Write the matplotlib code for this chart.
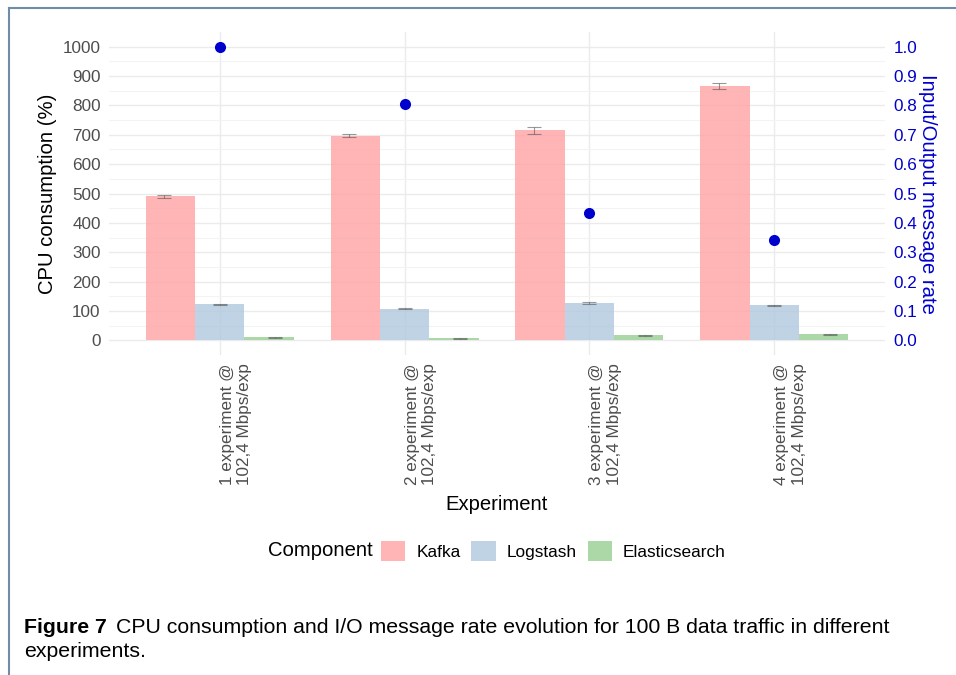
import matplotlib
matplotlib.use("Agg")
import matplotlib.pyplot as plt
from matplotlib.lines import Line2D
from matplotlib.patches import Patch
import numpy as np

plt.rcParams['font.family'] = ['Liberation Sans', 'DejaVu Sans']

# data
experiments = ["1 experiment @\n102,4 Mbps/exp", "2 experiment @\n102,4 Mbps/exp",
               "3 experiment @\n102,4 Mbps/exp", "4 experiment @\n102,4 Mbps/exp"]
components = ["Kafka", "Logstash", "Elasticsearch"]
kafka = [490, 697, 715, 866]
kafka_err = [6, 4, 13, 11]
logstash = [122, 108, 126, 119]
logstash_err = [3, 2, 3, 2]
elastic = [10, 7, 17, 20]
elastic_err = [2, 1.5, 2, 2]
io_rate = [1.0, 0.805, 0.435, 0.341]

cpu = [kafka, logstash, elastic]
cpu_err = [kafka_err, logstash_err, elastic_err]
colors = ['#FFA3A3', '#B0C8DF', '#97CF92']

W, H = 956, 675
fig = plt.figure(figsize=(W / 100, H / 100), dpi=100)
ax = fig.add_axes([109 / W, 1 - 355 / H, (885 - 109) / W, (355 - 32) / H])

x = np.arange(1, len(experiments) + 1)
bw = 0.8 / 3
grid_c = '#EBEBEB'

for i in range(3):
    ax.bar(x + (i - 1) * bw, cpu[i], width=bw, color=colors[i], alpha=0.8,
           linewidth=0, zorder=2)
    ax.errorbar(x + (i - 1) * 0.3, cpu[i], yerr=cpu_err[i], fmt='none',
                ecolor='#555555', alpha=0.6, elinewidth=0.8, capsize=4.7,
                capthick=0.8, zorder=3)

ax.set_xlim(0.4, 4.6)
ax.set_ylim(-50, 1050)
ax.set_yticks(np.arange(0, 1001, 100))
ax.set_yticks(np.arange(50, 1001, 100), minor=True)
ax.set_xticks(x)
ax.set_xticklabels(experiments, rotation=90, ha='left', va='top',
                   multialignment='right', fontsize=12.3, color='#4D4D4D')
ax.tick_params(axis='both', length=0, pad=6, labelsize=12.3, labelcolor='#4D4D4D')
ax.tick_params(axis='y', which='minor', length=0)
ax.grid(True, which='major', color=grid_c, linewidth=1.0, zorder=0)
ax.grid(True, which='minor', axis='y', color='#F3F3F3', linewidth=0.8, zorder=0)
ax.set_axisbelow(True)
for s in ax.spines.values():
    s.set_visible(False)

ax2 = ax.twinx()
ax2.set_ylim(-0.05, 1.05)
ax2.scatter(x, io_rate, s=64, color='#0000CD', zorder=4, linewidths=0)
ax2.set_yticks(np.arange(0, 1.01, 0.1))
ax2.set_yticklabels([f"{v:.1f}" for v in np.arange(0, 1.01, 0.1)])
ax2.tick_params(axis='y', length=0, pad=6, labelsize=12.3, labelcolor='#0000CD')
for s in ax2.spines.values():
    s.set_visible(False)

# axis titles
fig.text(48 / W, 1 - 193.5 / H, "CPU consumption (%)", rotation=90, ha='center',
         va='center', fontsize=14.6)
fig.text(927 / W, 1 - 193.5 / H, "Input/Output message rate", rotation=270,
         ha='center', va='center', fontsize=14.6, color='#0000CD')
fig.text(497 / W, 1 - 505 / H, "Experiment", ha='center', va='center', fontsize=14.6)

# legend
fig.text(268 / W, 1 - 551 / H, "Component", ha='left', va='center', fontsize=14.6)
handles = [Patch(facecolor=colors[i], alpha=0.8, linewidth=0) for i in range(3)]
fig.legend(handles, components, loc='center left', bbox_to_anchor=(381 / W, 1 - 551 / H),
           ncol=3, frameon=False, fontsize=12.4, handlelength=1.4, handleheight=1.34,
           handletextpad=0.64, columnspacing=0.64, borderpad=0, borderaxespad=0)

# caption
fig.canvas.draw()
r = fig.canvas.get_renderer()
t = fig.text(24 / W, 1 - 633 / H, "Figure 7", fontsize=15.3, fontweight='bold',
             va='baseline', ha='left')
bb = t.get_window_extent(renderer=r)
fig.text(bb.x1 / W + 9 / W, 1 - 633 / H,
         "CPU consumption and I/O message rate evolution for 100 B data traffic in different",
         fontsize=15.3, va='baseline', ha='left')
fig.text(24 / W, 1 - 657 / H, "experiments.", fontsize=15.3, va='baseline', ha='left')

# page frame
frame_c = '#6F8CA8'
fig.add_artist(Line2D([9 / W, 9 / W], [0, 1 - 7.5 / H], color=frame_c, linewidth=1.5))
fig.add_artist(Line2D([9 / W, 1], [1 - 7.5 / H, 1 - 7.5 / H], color=frame_c, linewidth=1.5))

fig.savefig("out.png", dpi=100)
